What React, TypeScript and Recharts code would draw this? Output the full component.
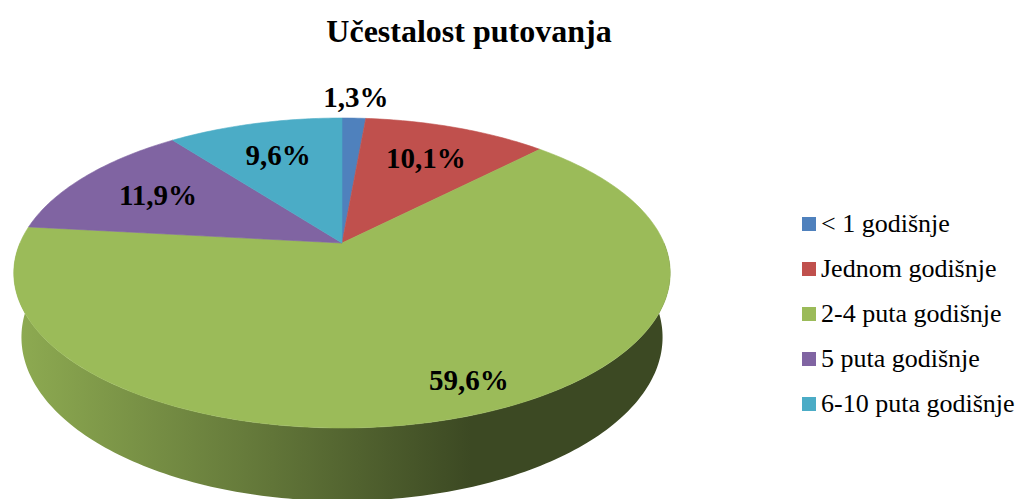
import React from "react";
import { Cell, Legend, Pie, PieChart } from "recharts";

const categories = [
  "< 1 godišnje",
  "Jednom godišnje",
  "2-4 puta godišnje",
  "5 puta godišnje",
  "6-10 puta godišnje",
];
const shares = [1.3, 10.1, 59.6, 11.9, 9.6];
const colors = ["#4F81BD", "#C0504D", "#9BBB59", "#8064A2", "#4BACC6"];

const data = categories.map((name, i) => ({ name, value: shares[i] }));

const SERIF = '"Liberation Serif", "Times New Roman", serif';

// camera used to tilt the pie (world units, pie radius = 1)
const TILT_SIN = 0.4633;
const TILT_COS = 0.886;
const DIST = 4.578;
const DEPTH = 0.227;

type Pt = [number, number];

function project(cx: number, cy: number, R: number, angle: number, r: number, y: number): Pt {
  const a = (angle * Math.PI) / 180;
  const X = r * Math.cos(a);
  const Z = r * Math.sin(a);
  const yc = y * TILT_COS + Z * TILT_SIN;
  const zc = DIST + Z * TILT_COS - y * TILT_SIN;
  const F = R * DIST;
  return [cx + (F * X) / zc, cy - (F * yc) / zc];
}

function rim(cx: number, cy: number, R: number, from: number, to: number, y: number): Pt[] {
  const n = Math.max(2, Math.ceil(Math.abs(to - from)) + 1);
  const pts: Pt[] = [];
  for (let k = 0; k < n; k++) {
    pts.push(project(cx, cy, R, from + ((to - from) * k) / (n - 1), 1, y));
  }
  return pts;
}

const toPath = (pts: Pt[]) =>
  pts.map((p, k) => `${k ? "L" : "M"}${p[0].toFixed(2)},${p[1].toFixed(2)}`).join("") + "Z";

function shade(hex: string, f: number) {
  const n = parseInt(hex.slice(1), 16);
  const c = [(n >> 16) & 255, (n >> 8) & 255, n & 255].map((v) => Math.round(v * f));
  return `rgb(${c.join(",")})`;
}

function renderSlice(props: any) {
  const { cx, cy, outerRadius, startAngle, endAngle, midAngle, percent, index } = props;
  const color = colors[index];
  const top: Pt[] = [[cx, cy], ...rim(cx, cy, outerRadius, startAngle, endAngle, 0)];

  // front wall, only the near half of the rim shows
  const hi = Math.min(startAngle, 0);
  const lo = Math.max(endAngle, -180);
  let side = null;
  if (hi > lo) {
    const pts = [
      ...rim(cx, cy, outerRadius, hi, lo, 0),
      ...rim(cx, cy, outerRadius, lo, hi, -DEPTH),
    ];
    const id = `side-${index}`;
    side = (
      <>
        <defs>
          <linearGradient
            id={id}
            gradientUnits="userSpaceOnUse"
            x1={cx - outerRadius}
            y1={0}
            x2={cx + outerRadius * 0.4}
            y2={0}
          >
            <stop offset="0" stopColor={shade(color, 0.91)} />
            <stop offset="0.5" stopColor={shade(color, 0.66)} />
            <stop offset="1" stopColor={shade(color, 0.39)} />
          </linearGradient>
        </defs>
        <path d={toPath(pts)} fill={`url(#${id})`} stroke="none" />
      </>
    );
  }

  // big slice label sits a bit further out and turned toward the front-right
  const lr = percent < 0.03 ? 1.21 : percent > 0.5 ? 0.85 : 0.7;
  const la = percent > 0.5 ? midAngle + 3.5 : midAngle;
  const [lx, ly] = project(cx, cy, outerRadius, la, lr, 0);
  const text = `${shares[index].toFixed(1).replace(".", ",")}%`;

  return (
    <g>
      {side}
      <path d={toPath(top)} fill={color} stroke={color} strokeWidth={0.6} />
      <text
        x={lx}
        y={ly + 0.34 * 29}
        textAnchor="middle"
        fontFamily={SERIF}
        fontWeight={700}
        fontSize={29}
        fill="#000"
      >
        {text}
      </text>
    </g>
  );
}

function renderLegend(props: any) {
  const payload = [...(props.payload || [])].sort(
    (a: any, b: any) => categories.indexOf(a.value) - categories.indexOf(b.value)
  );
  return (
    <div>
      {payload.map((entry: any) => (
        <div key={entry.value} style={{ display: "flex", alignItems: "center", height: 45 }}>
          <span
            style={{
              width: 14,
              height: 14,
              background: colors[categories.indexOf(entry.value)],
              marginRight: 5,
              flex: "none",
            }}
          />
          <span style={{ fontFamily: SERIF, fontSize: 26, color: "#000", whiteSpace: "nowrap" }}>
            {entry.value}
          </span>
        </div>
      ))}
    </div>
  );
}

export default function App() {
  return (
    <div style={{ position: "fixed", left: 0, top: 0, width: 1023, height: 499, background: "#fff" }}>
      <div
        style={{
          position: "absolute",
          left: 0,
          top: 15,
          width: 938,
          textAlign: "center",
          fontFamily: SERIF,
          fontWeight: 700,
          fontSize: 32,
          lineHeight: "32px",
          color: "#000",
        }}
      >
        Učestalost putovanja
      </div>
      <PieChart width={1023} height={499} margin={{ top: 0, right: 0, bottom: 0, left: 0 }}>
        <Pie
          data={data}
          dataKey="value"
          nameKey="name"
          cx={342}
          cy={243}
          outerRadius={322}
          startAngle={90}
          endAngle={-270}
          stroke="none"
          label={renderSlice}
          labelLine={false}
          isAnimationActive={false}
        >
          {data.map((d) => (
            <Cell key={d.name} fill="none" />
          ))}
        </Pie>
        <Legend
          layout="vertical"
          align="right"
          verticalAlign="top"
          wrapperStyle={{ left: 802, top: 201, width: 221 }}
          content={renderLegend}
        />
      </PieChart>
    </div>
  );
}
